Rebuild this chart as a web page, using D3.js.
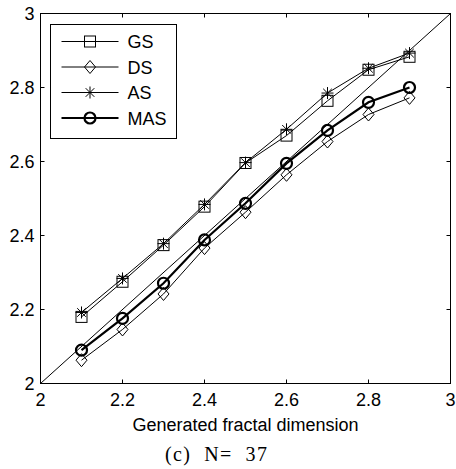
<!DOCTYPE html>
<html>
<head>
<meta charset="utf-8">
<script src="https://cdn.jsdelivr.net/npm/d3@7"></script>
<style>
  body { margin: 0; background: #fff; }
  svg { display: block; }
  text { font-family: Arial, "Liberation Sans", sans-serif; fill: #000; }
</style>
</head>
<body>
<div id="chart"></div>
<script>
// generated fractal dimension (x) and estimates per method
const xVals = [2.1, 2.2, 2.3, 2.4, 2.5, 2.6, 2.7, 2.8, 2.9];
const gsVals = [2.180, 2.275, 2.374, 2.478, 2.596, 2.670, 2.764, 2.848, 2.883];
const dsVals = [2.063, 2.146, 2.242, 2.366, 2.463, 2.564, 2.654, 2.727, 2.772];
const asVals = [2.192, 2.284, 2.378, 2.484, 2.597, 2.687, 2.785, 2.852, 2.893];
const masVals = [2.090, 2.176, 2.271, 2.388, 2.487, 2.595, 2.684, 2.760, 2.800];
const seriesNames = ["GS", "DS", "AS", "MAS"];
const tickVals = [2, 2.2, 2.4, 2.6, 2.8, 3];
const xLabel = "Generated fractal dimension";
const caption = "(c)  N=  37";

const W = 456, H = 469;
const margin = {top: 13.5, right: 5.5, bottom: 85.5, left: 40.5};
const width = W - margin.left - margin.right;
const height = H - margin.top - margin.bottom;
const fs = "18px";

const svg = d3.select("#chart")
    .append("svg")
    .attr("width", W)
    .attr("height", H);

const g = svg.append("g")
    .attr("transform", `translate(${margin.left},${margin.top})`);

const x = d3.scaleLinear().domain([2, 3]).range([0, width]);
const y = d3.scaleLinear().domain([2, 3]).range([height, 0]);

const series = [
    {name: "GS", vals: gsVals, marker: "square", sw: 1},
    {name: "DS", vals: dsVals, marker: "diamond", sw: 1},
    {name: "AS", vals: asVals, marker: "star", sw: 1},
    {name: "MAS", vals: masVals, marker: "circle", sw: 2.2}
];

// draw a marker of a given kind at (cx, cy)
function drawMarker(sel, kind, cx, cy, sw) {
    const m = sel.append("g").attr("transform", `translate(${cx},${cy})`);
    if (kind === "square") {
        m.append("rect").attr("x", -5.5).attr("y", -5.5).attr("width", 11).attr("height", 11)
            .attr("fill", "none").attr("stroke", "#000").attr("stroke-width", 1);
    } else if (kind === "diamond") {
        m.append("path").attr("d", "M0,-6.5L5.5,0L0,6.5L-5.5,0Z")
            .attr("fill", "none").attr("stroke", "#000").attr("stroke-width", 1);
    } else if (kind === "star") {
        m.append("path").attr("d", "M0,-6V6M-6,0H6M-4.3,-4.3L4.3,4.3M-4.3,4.3L4.3,-4.3")
            .attr("fill", "none").attr("stroke", "#000").attr("stroke-width", 1);
    } else {
        m.append("circle").attr("r", 5.5)
            .attr("fill", "none").attr("stroke", "#000").attr("stroke-width", sw);
    }
}

// diagonal reference line
g.append("line")
    .attr("x1", x(2)).attr("y1", y(2))
    .attr("x2", x(3)).attr("y2", y(3))
    .attr("stroke", "#000").attr("stroke-width", 1);

const line = d3.line()
    .x((d, i) => x(xVals[i]))
    .y(d => y(d));

series.forEach(s => {
    g.append("path")
        .datum(s.vals)
        .attr("d", line)
        .attr("fill", "none")
        .attr("stroke", "#000")
        .attr("stroke-width", s.sw);
    s.vals.forEach((v, i) => drawMarker(g, s.marker, x(xVals[i]), y(v), s.sw));
});

// box and inward ticks on all sides
g.append("rect")
    .attr("width", width).attr("height", height)
    .attr("fill", "none").attr("stroke", "#000").attr("stroke-width", 1);

const tl = 4;
tickVals.forEach(t => {
    g.append("line").attr("x1", x(t)).attr("x2", x(t)).attr("y1", height).attr("y2", height - tl).attr("stroke", "#000");
    g.append("line").attr("x1", x(t)).attr("x2", x(t)).attr("y1", 0).attr("y2", tl).attr("stroke", "#000");
    g.append("line").attr("y1", y(t)).attr("y2", y(t)).attr("x1", 0).attr("x2", tl).attr("stroke", "#000");
    g.append("line").attr("y1", y(t)).attr("y2", y(t)).attr("x1", width).attr("x2", width - tl).attr("stroke", "#000");
});

// tick labels
g.selectAll(".xtick")
    .data(tickVals)
    .join("text")
    .attr("class", "xtick")
    .attr("x", d => x(d))
    .attr("y", height + 22)
    .attr("text-anchor", "middle")
    .style("font-size", fs)
    .text(d => d3.format("~g")(d));

g.selectAll(".ytick")
    .data(tickVals)
    .join("text")
    .attr("class", "ytick")
    .attr("x", -6)
    .attr("y", d => y(d) + 6)
    .attr("text-anchor", "end")
    .style("font-size", fs)
    .text(d => d3.format("~g")(d));

// axis label
g.append("text")
    .attr("x", width / 2)
    .attr("y", height + 47)
    .attr("text-anchor", "middle")
    .style("font-size", fs)
    .text(xLabel);

// caption
svg.append("text")
    .attr("x", 216)
    .attr("y", 461)
    .attr("text-anchor", "middle")
    .attr("textLength", 102)
    .style("font-family", "'Liberation Serif', 'Times New Roman', serif")
    .style("font-size", "20px")
    .style("white-space", "pre")
    .text(caption);

// legend
const legend = svg.append("g").attr("transform", "translate(50.5,24.5)");
legend.append("rect")
    .attr("width", 126).attr("height", 114)
    .attr("fill", "#fff").attr("stroke", "#000").attr("stroke-width", 1);

series.forEach((s, i) => {
    const ly = 17 + i * 25.5;
    legend.append("line")
        .attr("x1", 11).attr("x2", 68).attr("y1", ly).attr("y2", ly)
        .attr("stroke", "#000").attr("stroke-width", s.sw);
    drawMarker(legend, s.marker, 39.5, ly, s.sw);
    legend.append("text")
        .attr("x", 77)
        .attr("y", ly + 6.5)
        .style("font-size", fs)
        .text(seriesNames[i]);
});
</script>
</body>
</html>
